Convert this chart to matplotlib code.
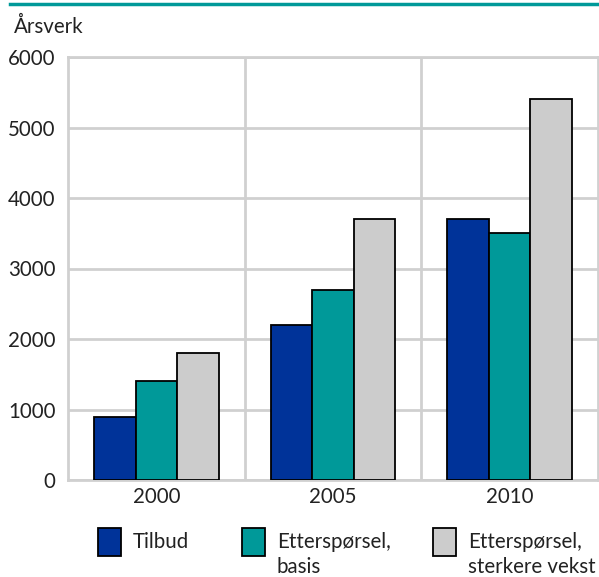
import matplotlib
matplotlib.use("Agg")
import matplotlib.pyplot as plt
import numpy as np
from matplotlib.patches import Rectangle
from matplotlib.lines import Line2D

categories = ["2000", "2005", "2010"]
tilbud = [900, 2200, 3700]
ett_basis = [1400, 2700, 3500]
ett_sterk = [1800, 3700, 5400]
series_names = ["Tilbud", "Etterspørsel,\nbasis", "Etterspørsel,\nsterkere vekst"]
colors = ["#003399", "#009999", "#cccccc"]
yticks = [0, 1000, 2000, 3000, 4000, 5000, 6000]

plt.rcParams['font.family'] = ['Lato', 'DejaVu Sans']
FS = 14.8
TXT = "#222222"

W, H = 599, 577
fig = plt.figure(figsize=(W/100, H/100), dpi=100)
ax = fig.add_axes([68/W, 1-480/H, (598-68)/W, (480-57)/H])

x = np.arange(len(categories))
bw = 0.235
grid_c = "#d0d0d0"
for i, (vals, c, name) in enumerate(zip([tilbud, ett_basis, ett_sterk], colors, series_names)):
    ax.bar(x + (i-1)*bw, vals, width=bw, color=c, edgecolor="black", linewidth=1.3, zorder=3, label=name)

ax.set_xlim(-0.5, 2.5)
ax.set_ylim(0, 6000)
ax.set_yticks(yticks)
ax.set_xticks(x)
ax.set_xticklabels(categories)
ax.tick_params(axis='both', length=0, labelsize=FS, colors=TXT)
ax.tick_params(axis='y', pad=9)
ax.tick_params(axis='x', pad=5)
ax.yaxis.grid(True, color=grid_c, linewidth=2, zorder=0)
for xv in [0.5, 1.5]:
    ax.axvline(xv, color=grid_c, linewidth=2, zorder=0)
for s in ax.spines.values():
    s.set_color(grid_c)
    s.set_linewidth(2)

fig.text(14/W, 1-27/H, "Årsverk", fontsize=FS, va="center", ha="left", color=TXT)
fig.add_artist(Line2D([10/W, 1], [1-4/H, 1-4/H], color="#009999", linewidth=2.5))

# legend (manual layout)
sq_x = [98, 242, 433]
sq_w, sq_h = 23, 28
sq_top = 528
for sx, c, name in zip(sq_x, colors, series_names):
    fig.add_artist(Rectangle((sx/W, 1-(sq_top+sq_h)/H), sq_w/W, sq_h/H,
                             facecolor=c, edgecolor="black", linewidth=1.3, transform=fig.transFigure))
    fig.text((sx+35)/W, 1-532/H, name, fontsize=FS, va="top", ha="left", color=TXT, linespacing=1.32)

fig.savefig("out.png", dpi=100)
